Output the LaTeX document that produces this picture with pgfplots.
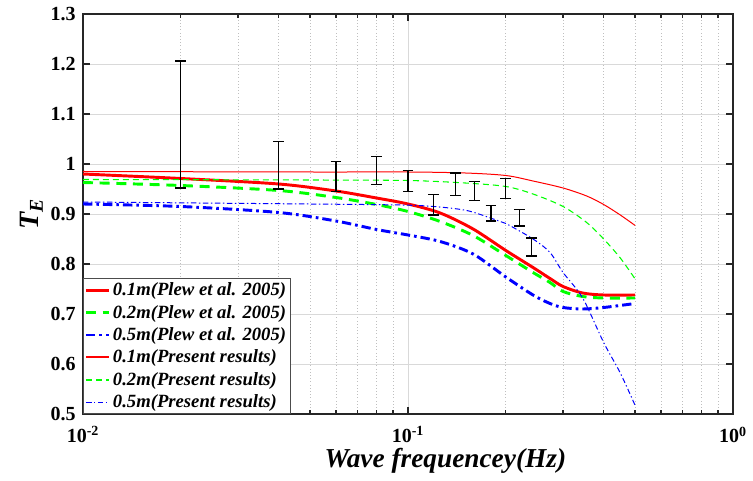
\documentclass[border=0pt]{standalone}
\usepackage{fontspec}
\setmainfont{Liberation Serif}
\usepackage{pgfplots}
\pgfplotsset{compat=1.18}
\definecolor{mred}{RGB}{255,0,0}
\definecolor{mgreen}{RGB}{0,255,0}
\definecolor{mblue}{RGB}{0,0,255}
\begin{document}
\begin{tikzpicture}
\begin{axis}[
  scale only axis, width=487.5pt, height=300pt,
  xmode=log, xmin=0.01, xmax=1, ymin=0.5, ymax=1.3,
  xtick={0.01,0.1,1},
  xticklabels={10\textsuperscript{-2},10\textsuperscript{-1},10\textsuperscript{0}},
  ytick={0.5,0.6,0.7,0.8,0.9,1,1.1,1.2,1.3},
  yticklabels={0.5,0.6,0.7,0.8,0.9,1,1.1,1.2,1.3},
  ticklabel style={font=\fontsize{15}{17}\selectfont\bfseries},
  xticklabel style={yshift=-6pt},
  yticklabel style={xshift=-2pt},
  grid=both,
  major grid style={gray!30, line width=0.6pt},
  minor grid style={gray!50, dotted, line width=0.5pt},
  axis line style={line width=1.2pt, black!85},
  tick style={black!85, line width=1pt},
  major tick length=5pt, minor tick length=3pt,
  tick align=inside,
  xlabel={\bfseries\itshape Wave frequencey(Hz)},
  ylabel={\bfseries\itshape T\textsubscript{E}},
  xlabel style={font=\fontsize{20.5}{24}\selectfont, xshift=28pt, yshift=3pt},
  ylabel style={font=\fontsize{21}{24}\selectfont, yshift=-1pt},
  legend style={at={(0,0)}, anchor=south west,
    font=\fontsize{14}{16}\selectfont\bfseries\itshape,
    draw=black!70, inner sep=1pt, row sep=1.6pt},
  legend cell align=left,
]
\addplot[mred, line width=2.2pt, smooth] coordinates {
(0.01,0.980) (0.02,0.971) (0.04,0.960) (0.06,0.946) (0.08,0.932) (0.1,0.920)
(0.1256,0.902) (0.1586,0.870) (0.2,0.827) (0.2425,0.793) (0.2735,0.771)
(0.3,0.755) (0.3447,0.742) (0.4,0.738) (0.5,0.738)};
\addlegendentry{0.1m(Plew et al. 2005)}
\addplot[mgreen, line width=2.2pt, dash pattern=on 7.5pt off 5pt, smooth] coordinates {
(0.01,0.963) (0.02,0.957) (0.04,0.947) (0.06,0.933) (0.08,0.919) (0.1,0.905)
(0.1256,0.885) (0.1586,0.857) (0.2,0.817) (0.2425,0.783) (0.2735,0.763)
(0.3,0.745) (0.3447,0.735) (0.4,0.732) (0.5,0.732)};
\addlegendentry{0.2m(Plew et al. 2005)}
\addplot[mblue, line width=2.2pt, dash pattern=on 7pt off 3pt on 2pt off 3pt, smooth] coordinates {
(0.01,0.920) (0.02,0.915) (0.04,0.903) (0.06,0.886) (0.08,0.869) (0.1,0.858)
(0.1256,0.845) (0.1586,0.820) (0.2,0.774) (0.2425,0.738) (0.2735,0.721)
(0.3,0.713) (0.3447,0.710) (0.4,0.713) (0.5,0.721)};
\addlegendentry{0.5m(Plew et al. 2005)}
\addplot[mred, line width=0.75pt, smooth,
  legend image code/.code={\draw[draw=mred, solid, line width=1.2pt] (0cm,0.35pt) -- (0.6cm,0.35pt);}] coordinates {
(0.01,0.985) (0.05,0.984) (0.1,0.984) (0.15,0.982) (0.2,0.977) (0.2425,0.966)
(0.3,0.952) (0.3546,0.936) (0.4,0.919) (0.45,0.898) (0.5,0.877)};
\addlegendentry{0.1m(Present results)}
\addplot[mgreen, line width=0.8pt, dash pattern=on 4.5pt off 3pt, smooth, legend image post style={line width=1.1pt}] coordinates {
(0.01,0.969) (0.05,0.968) (0.1,0.967) (0.15,0.962) (0.2,0.955) (0.2425,0.940)
(0.3,0.915) (0.3546,0.883) (0.4,0.850) (0.45,0.812) (0.5,0.770)};
\addlegendentry{0.2m(Present results)}
\addplot[mblue, line width=0.75pt, dash pattern=on 4pt off 2pt on 1pt off 2pt, smooth, legend image post style={line width=1.1pt}] coordinates {
(0.01,0.924) (0.05,0.920) (0.0946,0.918) (0.12,0.915) (0.1516,0.907) (0.183,0.890)
(0.2,0.881) (0.2425,0.850) (0.2735,0.823) (0.3,0.783) (0.3447,0.732) (0.4,0.643)
(0.45,0.582) (0.5,0.517)};
\addlegendentry{0.5m(Present results)}
\addplot[draw=none, mark=none, forget plot,
  error bars/.cd, y dir=both, y explicit,
  error bar style={draw=black, solid, line width=1pt},
  error mark options={rotate=90, draw=black, solid, mark size=4pt, line width=1pt}]
coordinates {
(0.02,1.079) +- (0,0.127)
(0.04,0.9975) +- (0,0.0475)
(0.06,0.975) +- (0,0.030)
(0.08,0.987) +- (0,0.028)
(0.1,0.966) +- (0,0.021)
(0.12,0.9185) +- (0,0.0205)
(0.14,0.9595) +- (0,0.0225)
(0.16,0.946) +- (0,0.019)
(0.18,0.9015) +- (0,0.0155)
(0.2,0.951) +- (0,0.020)
(0.22,0.8925) +- (0,0.0165)
(0.24,0.834) +- (0,0.018)};
\end{axis}
\path (current axis.south west) ++(-62.25pt,-50.25pt) rectangle ++(564.75pt,360.75pt);
\end{tikzpicture}
\end{document}
